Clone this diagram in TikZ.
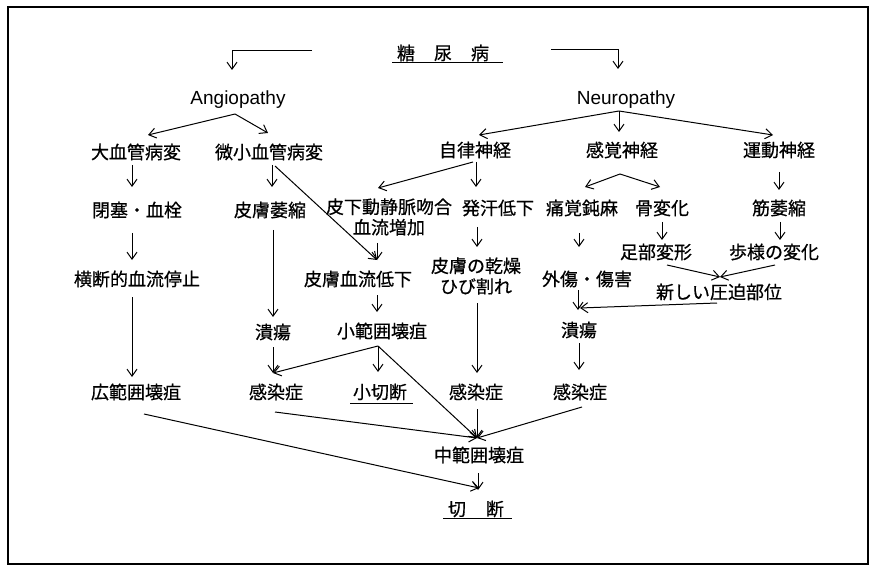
\documentclass[tikz,border=0pt]{standalone}
\usepackage{fontspec}
\setmainfont{Liberation Sans}
\newfontfamily\jp[FakeBold=0.6]{Noto Sans CJK JP}
\usetikzlibrary{arrows.meta,calc}
\begin{document}
\begin{tikzpicture}[x=1pt,y=-1pt,
  jt/.style={inner sep=0pt, font=\jp\fontsize{18}{20.5}\selectfont, align=center},
  et/.style={inner sep=0pt, font=\fontsize{19}{22}\selectfont},
  arr/.style={-{Straight Barb[length=7pt,width=10pt]}, line width=1pt},
  ln/.style={line width=1pt},
  frame/.style={line width=1.8pt}]
\useasboundingbox (0,0) rectangle (871,567);
\draw[frame] (8,7) rectangle (868,564);

% nodes
\node[jt] (tonyo) at (443,53) {糖\hspace{19pt}尿\hspace{19pt}病};
\node[et] (angio) at (238,100) {Angiopathy};
\node[et] (neuro) at (626,100) {Neuropathy};
\node[jt] (dai) at (136,152) {大血管病変};
\node[jt] (bisho) at (269,152) {微小血管病変};
\node[jt] (jiritsu) at (475,150) {自律神経};
\node[jt] (kankaku) at (622,150) {感覚神経};
\node[jt] (undo) at (779,150) {運動神経};
\node[jt] (heisoku) at (137,210) {閉塞・血栓};
\node[jt] (ishuku) at (270,210) {皮膚萎縮};
\node[jt] (hika) at (389,217) {皮下動静脈吻合\\血流増加};
\node[jt] (hakkan) at (498,208) {発汗低下};
\node[jt] (tsukaku) at (582,208) {痛覚鈍麻};
\node[jt] (kotsu) at (662,208) {骨変化};
\node[jt] (kin) at (779,208) {筋萎縮};
\node[jt] (odan) at (137,279) {横断的血流停止};
\node[jt] (hifuketsu) at (358,279) {皮膚血流低下};
\node[jt] (kanso) at (476,276) {皮膚の乾燥\\ひび割れ};
\node[jt] (gaisho) at (587,279) {外傷・傷害};
\node[jt] (sokubu) at (656,252) {足部変形};
\node[jt] (hoyo) at (774,252) {歩様の変化};
\node[jt] (atsu) at (719,292) {新しい圧迫部位};
\node[jt] (kaiyoL) at (273,332) {潰瘍};
\node[jt] (shohan) at (382,331) {小範囲壊疽};
\node[jt] (kaiyoR) at (579,330) {潰瘍};
\node[jt] (kohan) at (136,392) {広範囲壊疽};
\node[jt] (kansenL) at (276,392) {感染症};
\node[jt] (shosetsu) at (380,392) {小切断};
\node[jt] (kansenM) at (476,392) {感染症};
\node[jt] (kansenR) at (580,392) {感染症};
\node[jt] (chuhan) at (479,455) {中範囲壊疽};
\node[jt] (setsudan) at (476,509) {切\hspace{20pt}断};

% underlines
\draw[ln] ($(tonyo)+(-51,10)$) -- ($(tonyo)+(60,10)$);
\draw[ln] ($(shosetsu)+(-30,11)$) -- ($(shosetsu)+(33,11)$);
\draw[ln] ($(setsudan)+(-33,9)$) -- ($(setsudan)+(36,9)$);

% connectors
\draw[arr] ($(tonyo)+(-131,-2)$) -| ($(angio)+(-6,-30)$);
\draw[arr] ($(tonyo)+(108,-3)$) -| ($(neuro)+(-8,-31)$);
\draw[arr] ($(angio)+(-3,14)$) -- ($(dai)+(12,-17)$);
\draw[arr] ($(angio)+(-3,14)$) -- ($(bisho)+(-1,-19)$);
\draw[arr] ($(neuro)+(-7,11)$) -- ($(jiritsu)+(4,-15)$);
\draw[arr] ($(neuro)+(-7,11)$) -- ($(kankaku)+(-3,-18)$);
\draw[arr] ($(neuro)+(-7,11)$) -- ($(undo)+(-6,-15)$);
\draw[arr] ($(dai)+(-4,13)$) -- ($(heisoku)+(-5,-23)$);
\draw[arr] ($(bisho)+(3,13)$) -- ($(ishuku)+(2,-23)$);
\draw[arr] ($(bisho)+(6,14)$) -- ($(hifuketsu)+(19,-19)$);
\draw[arr] ($(jiritsu)+(-2,12)$) -- ($(hika)+(-11,-29)$);
\draw[arr] ($(jiritsu)+(1,12)$) -- ($(hakkan)+(-22,-21)$);
\draw[arr] ($(kankaku)+(-2,24)$) -- ($(tsukaku)+(3,-21)$);
\draw[arr] ($(kankaku)+(-2,24)$) -- ($(kotsu)+(-2,-21)$);
\draw[arr] ($(undo)+(0,22)$) -- ($(kin)+(0,-18)$);
\draw[arr] ($(heisoku)+(-5,23)$) -- ($(odan)+(-5,-19)$);
\draw[arr] ($(ishuku)+(3,20)$) -- ($(kaiyoL)+(0,-15)$);
\draw[arr] ($(hika)+(-12,26)$) -- ($(hifuketsu)+(19,-19)$);
\draw[arr] ($(hakkan)+(-21,19)$) -- ($(kanso)+(1,-29)$);
\draw[arr] ($(tsukaku)+(-3,25)$) -- ($(gaisho)+(-8,-32)$);
\draw[arr] ($(kotsu)+(0,14)$) -- ($(sokubu)+(6,-12)$);
\draw[arr] ($(kin)+(1,14)$) -- ($(hoyo)+(6,-12)$);
\draw[arr] ($(sokubu)+(11,13)$) -- ($(atsu)+(1,-15)$);
\draw[arr] ($(hoyo)+(1,13)$) -- ($(atsu)+(1,-15)$);
\draw[arr] ($(atsu)+(-2,11)$) -- ($(kaiyoR)+(1,-22)$);
\draw[arr] ($(gaisho)+(-9,11)$) -- ($(kaiyoR)+(-1,-20)$);
\draw[arr] ($(odan)+(-5,18)$) -- ($(kohan)+(-4,-15)$);
\draw[arr] ($(hifuketsu)+(19,16)$) -- ($(shohan)+(-5,-19)$);
\draw[arr] ($(kaiyoL)+(0,15)$) -- ($(kansenL)+(-3,-19)$);
\draw[arr] ($(shohan)+(-4,15)$) -- ($(kansenL)+(-3,-19)$);
\draw[arr] ($(shohan)+(-4,15)$) -- ($(shosetsu)+(-2,-20)$);
\draw[arr] ($(shohan)+(-4,15)$) -- ($(chuhan)+(-2,-17)$);
\draw[arr] ($(kanso)+(1,27)$) -- ($(kansenM)+(1,-19)$);
\draw[arr] ($(kaiyoR)+(0,13)$) -- ($(kansenR)+(-1,-22)$);
\draw[arr] ($(kansenM)+(1,17)$) -- ($(chuhan)+(-2,-17)$);
\draw[arr] ($(kansenR)+(2,15)$) -- ($(chuhan)+(-2,-17)$);
\draw[arr] ($(kansenL)+(-1,20)$) -- ($(chuhan)+(-2,-17)$);
\draw[arr] ($(kohan)+(8,22)$) -- ($(setsudan)+(3,-21)$);
\draw[arr] ($(chuhan)+(-1,18)$) -- ($(setsudan)+(2,-19)$);
\end{tikzpicture}
\end{document}
